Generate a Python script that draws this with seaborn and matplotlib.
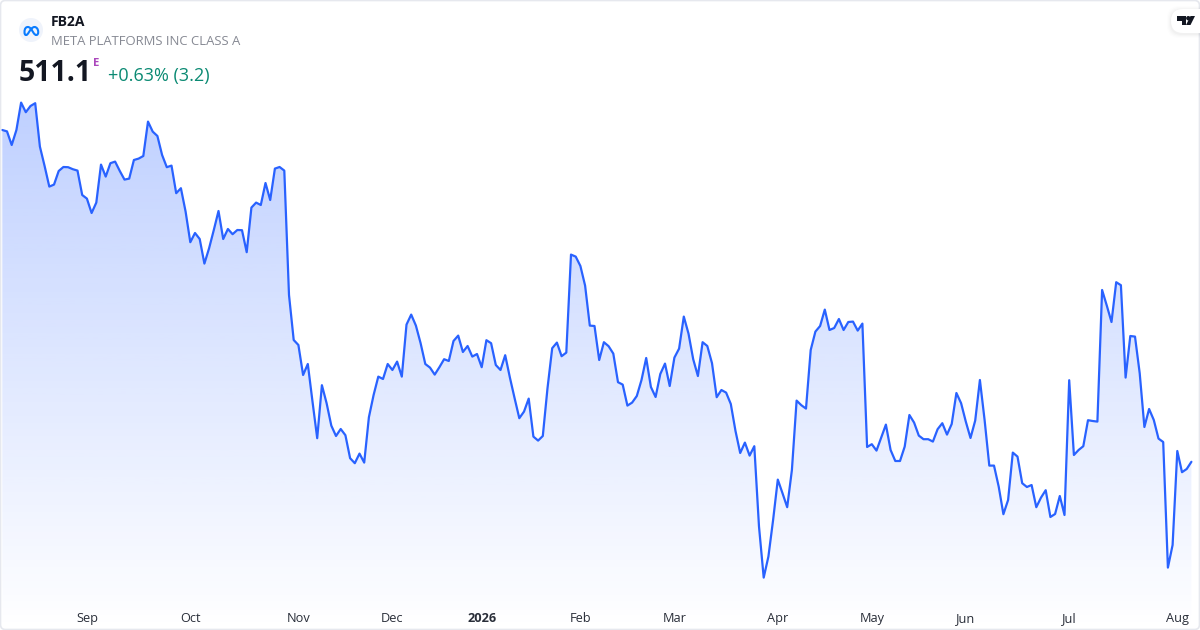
import numpy as np
import pandas as pd
import seaborn as sns
import matplotlib
matplotlib.use("Agg")
import matplotlib.pyplot as plt
from matplotlib.patches import Circle, FancyBboxPatch, PathPatch, Polygon
from matplotlib.path import Path
from matplotlib.transforms import Affine2D

# ── data ───────────────────────────────────────────────────────────────────
price = [
    677.0, 676.3, 669.5, 677.0, 690.7, 685.9, 689.0, 690.4, 668.7, 659.0,
    648.7, 649.7, 656.5, 658.5, 658.4, 657.4, 656.7, 644.5, 642.7, 635.5,
    640.7, 659.7, 653.7, 660.4, 661.2, 656.5, 652.2, 652.7, 662.0, 662.7,
    664.0, 681.2, 676.2, 674.0, 664.5, 658.4, 659.2, 645.4, 647.9, 636.2,
    620.9, 625.5, 622.5, 610.2, 617.9, 627.0, 636.5, 622.5, 627.5, 624.9,
    627.0, 626.9, 615.9, 638.2, 640.7, 639.5, 650.5, 642.0, 657.7, 658.5,
    656.7, 594.5, 572.0, 569.5, 554.5, 560.0, 541.2, 522.9, 549.4, 540.4,
    529.2, 524.0, 527.5, 524.4, 512.9, 510.4, 515.2, 510.7, 533.4, 544.5,
    553.7, 552.5, 560.0, 557.0, 561.2, 553.7, 579.7, 584.7, 579.2, 570.4,
    560.0, 558.2, 554.7, 558.4, 562.4, 561.5, 571.5, 574.2, 566.0, 569.0,
    563.7, 565.0, 558.4, 571.9, 570.4, 559.5, 557.0, 564.4, 553.2, 542.9,
    532.9, 536.2, 542.7, 523.7, 521.7, 524.0, 547.9, 567.9, 570.7, 563.9,
    565.7, 614.7, 613.7, 609.0, 599.2, 579.2, 579.0, 562.0, 570.9, 568.9,
    565.2, 550.9, 549.7, 539.2, 540.7, 544.0, 552.0, 563.0, 548.5, 543.5,
    555.0, 560.2, 549.0, 563.2, 567.7, 583.7, 575.2, 562.4, 554.0, 570.9,
    569.0, 560.4, 543.4, 547.0, 545.7, 540.0, 526.5, 515.5, 520.7, 514.2,
    518.9, 478.7, 453.2, 463.7, 482.0, 502.2, 495.4, 488.4, 507.0, 541.7,
    539.4, 537.7, 567.0, 576.2, 579.0, 587.2, 577.0, 578.0, 582.5, 577.0,
    581.0, 581.2, 576.7, 580.2, 518.5, 519.9, 516.7, 523.2, 529.7, 517.0,
    511.5, 511.5, 518.7, 534.5, 530.7, 524.2, 522.4, 522.4, 521.2, 527.4,
    530.4, 524.7, 530.0, 545.5, 540.4, 531.2, 523.0, 531.7, 552.0, 532.0,
    509.2, 509.2, 498.7, 484.9, 492.0, 515.7, 513.7, 500.4, 498.5, 499.5,
    488.4, 493.2, 496.9, 483.5, 485.0, 494.0, 484.5, 551.9, 514.5, 517.0,
    518.9, 531.9, 531.5, 531.2, 597.0, 589.2, 581.0, 600.9, 599.4, 553.2,
    574.0, 573.7, 555.4, 528.5, 537.5, 532.0, 522.7, 521.0, 458.2, 469.5,
    516.5, 505.9, 507.5, 511.1,
]
bar = list(range(len(price)))
tick_bars = [18, 40, 63, 83, 102, 123, 143, 165, 185, 205, 227, 250]
tick_labels = ["Sep", "Oct", "Nov", "Dec", "2026", "Feb", "Mar", "Apr", "May", "Jun", "Jul", "Aug"]

symbol = "FB2A"
name = "META PLATFORMS INC CLASS A"
last_price = "511.1"
change = "+0.63% (3.2)"

BLUE = "#2962ff"
df = pd.DataFrame({"bar": bar, "price": price})

# ── theme ──────────────────────────────────────────────────────────────────
sns.set_theme(style="white")
plt.rcParams["font.family"] = ["Open Sans", "DejaVu Sans"]

fig = plt.figure(figsize=(12, 6.3), dpi=100, facecolor="white")
ax = fig.add_axes([0, 0, 1, 1])
ax.set_facecolor("white")

# ── area + line ────────────────────────────────────────────────────────────
xlim = (-0.49, 254.83)
ylim = (427, 742)
area = ax.fill_between(df["bar"], df["price"], ylim[0], color="none", linewidth=0)
alpha = np.interp(np.linspace(0, 630, 256), [102, 630], [0.30, 0.0])
rgba = np.zeros((256, 1, 4))
rgba[..., :3] = matplotlib.colors.to_rgb(BLUE)
rgba[:, 0, 3] = alpha
im = ax.imshow(rgba, extent=(xlim[0], xlim[1], ylim[0], ylim[1]), aspect="auto", zorder=1)
im.set_clip_path(area.get_paths()[0], transform=ax.transData)

sns.lineplot(data=df, x="bar", y="price", ax=ax, color=BLUE, linewidth=1.6, zorder=2)
ax.set_xlim(xlim)
ax.set_ylim(ylim)
ax.set_xlabel("")
ax.set_ylabel("")
ax.set_yticks([])
ax.set_xticks(tick_bars)
ax.set_xticklabels(tick_labels, fontsize=9.2, color="#2a2e39")
ax.tick_params(axis="x", length=0, pad=-13)
for lab in ax.get_xticklabels():
    if lab.get_text() == "2026":
        lab.set_fontweight("bold")
for s in ax.spines.values():
    s.set_visible(False)

# ── overlays, placed in pixels from the top-left corner ────────────────────
px = Affine2D().scale(1, -1).translate(0, 630)


def label(x, y, s, **kw):
    fig.text(x, y, s, transform=px, va="baseline", ha="left", **kw)


fig.add_artist(FancyBboxPatch((0.5, 0.5), 1199, 629, boxstyle="round,pad=0,rounding_size=5",
                              transform=px, fc="none", ec="#e6e8ee", lw=1.2))

# Meta logo
fig.add_artist(Circle((31, 30), 12, transform=px, fc="#eff3fb", ec="none"))
C = Path.CURVE4
logo = Path(
    [(24.5, 32), (24.5, 28.5), (26, 27), (27.8, 27), (30, 27), (31, 29), (33, 32),
     (34.5, 34.5), (35.3, 35), (36.3, 35), (37.8, 35), (38.2, 33.5), (38.2, 32),
     (38.2, 29), (36.5, 27), (34.5, 27), (32.5, 27), (31, 29), (29, 32),
     (27.5, 34.5), (27, 35), (26, 35), (24.8, 35), (24.5, 33.5), (24.5, 32)],
    [Path.MOVETO] + [C] * 24,
)
fig.add_artist(PathPatch(logo, transform=px, fc="none", ec="#0a7cff", lw=1.5))

label(51, 26, symbol, fontsize=10, fontweight="bold", color="#131722")
label(51, 45, name, fontsize=9.45, color="#868993")
label(19, 81, last_price, fontsize=20.4, fontweight="bold", color="#131722")
label(93, 66, "E", fontsize=8.2, fontweight="bold", color="#ab47bc")
label(108, 81, change, fontsize=12.95, color="#0b8a73")

# TradingView badge: soft shadow, pill, glyph
for grow, a in [(4, 0.008), (3, 0.012), (2, 0.016), (1, 0.02)]:
    fig.add_artist(FancyBboxPatch((1171 - grow, 9 - grow + 1), 60 + grow, 24 + 2 * grow,
                                  boxstyle="round,pad=0,rounding_size=12", transform=px,
                                  fc="black", ec="none", alpha=a))
fig.add_artist(FancyBboxPatch((1171, 9), 60, 24, boxstyle="round,pad=0,rounding_size=12",
                              transform=px, fc="white", ec="none"))
fig.add_artist(Polygon([(1177, 16), (1186, 16), (1186, 25), (1181.5, 25), (1181.5, 20.5), (1177, 20.5)],
                       transform=px, fc="#131722", ec="none"))
fig.add_artist(Circle((1188.3, 18.2), 2.2, transform=px, fc="#131722", ec="none"))
fig.add_artist(Polygon([(1190.5, 16), (1195, 16), (1190.5, 25), (1186, 25)],
                       transform=px, fc="#131722", ec="none"))

fig.savefig("out.png", dpi=100, facecolor="white")
